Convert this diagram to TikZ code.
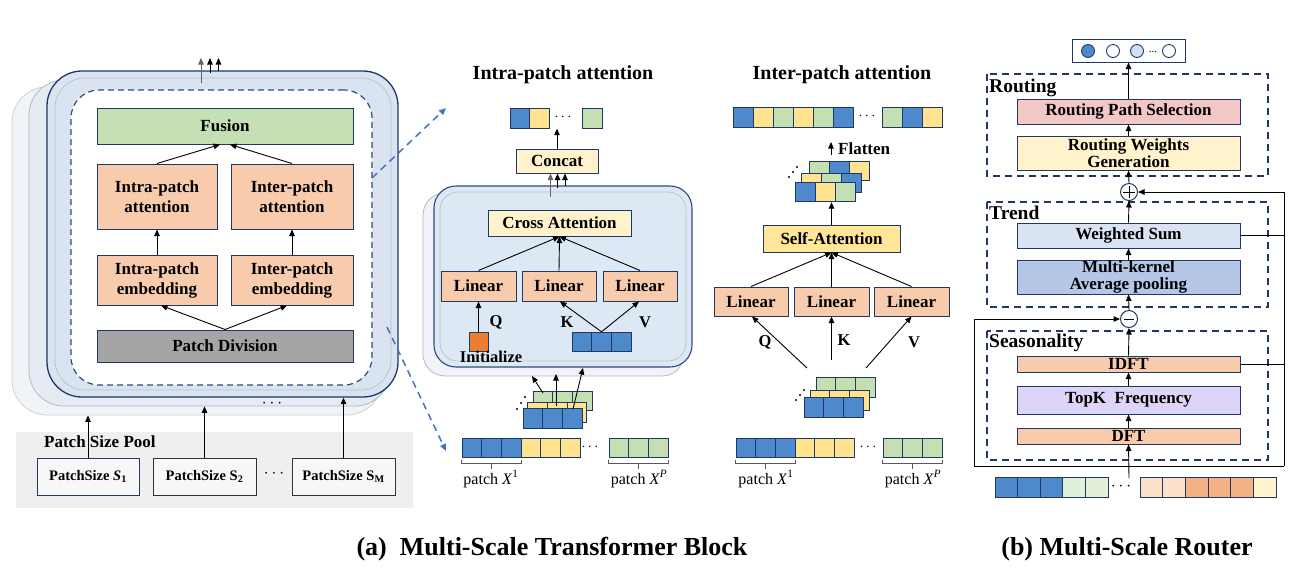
\documentclass[tikz,border=0pt]{standalone}
\usepackage{fontspec}
\setmainfont{Liberation Serif}
\usetikzlibrary{arrows.meta}

\definecolor{navy}{HTML}{1F3864}
\definecolor{edge}{HTML}{2E4A7D}
\definecolor{salmon}{HTML}{F8CBAD}
\definecolor{fusiongreen}{HTML}{C5E0B4}
\definecolor{divgray}{HTML}{A5A5A5}
\definecolor{paleyellow}{HTML}{FFF2CC}
\definecolor{selfyellow}{HTML}{FFE699}
\definecolor{tb}{HTML}{4E8ACB}
\definecolor{ty}{HTML}{FFE38F}
\definecolor{tg}{HTML}{C4DFB2}
\definecolor{initorange}{HTML}{ED7D31}
\definecolor{panelblue}{HTML}{DAE3F0}
\definecolor{cardA}{HTML}{F0F3F8}
\definecolor{cardB}{HTML}{E4EBF5}
\definecolor{attnblue}{HTML}{DDE8F5}
\definecolor{poolgray}{HTML}{EFEFEF}
\definecolor{routepink}{HTML}{F4C7C7}
\definecolor{sumblue}{HTML}{DAE3F3}
\definecolor{poolblue}{HTML}{B4C7E7}
\definecolor{topkviolet}{HTML}{DCD5F7}
\definecolor{linkblue}{HTML}{4472C4}
\definecolor{lg}{HTML}{E2EFD9}
\definecolor{peach}{HTML}{FBE0CC}
\definecolor{orng}{HTML}{F4B183}
\definecolor{cream}{HTML}{FFF2CC}
\definecolor{lightdot}{HTML}{D0DFF2}

\tikzset{
  lbl/.style={font=\bfseries\fontsize{17}{20}\selectfont},
  tight/.style={font=\bfseries\fontsize{17}{17}\selectfont},
  box/.style={draw=navy, line width=1pt, inner sep=0pt, align=center, lbl},
  arr/.style={-{Triangle[width=5.5pt,length=6.5pt]}, line width=0.9pt},
  tok/.style={draw=navy, line width=0.9pt, minimum height=19.5pt, inner sep=0pt},
  title/.style={font=\bfseries\fontsize{20}{22}\selectfont},
  sect/.style={font=\bfseries\fontsize{19.5}{21}\selectfont, anchor=west, inner sep=0pt},
  qkv/.style={font=\bfseries\fontsize{16.5}{17}\selectfont, inner sep=0pt},
  patchlbl/.style={font=\fontsize{16}{17}\selectfont, inner sep=0pt},
  brk/.style={draw=black!65, line width=0.8pt},
  dbox/.style={draw=navy, line width=1.6pt, dash pattern=on 7pt off 5pt},
  link/.style={draw=linkblue, line width=1.5pt, dash pattern=on 7pt off 5pt,
               -{Triangle[width=6pt,length=7pt]}},
  caption/.style={font=\bfseries\fontsize{26}{28}\selectfont},
}

% a row of coloured cells: name prefix, left x, centre y, cell width, colours
\newcommand\tokrow[5]{%
  \foreach \c [count=\i] in {#5} {
    \node[tok, minimum width=#4pt, fill=\c] (#1\i) at ({#2+(\i-0.5)*#4}, #3) {};
  }}

\begin{document}
\begin{tikzpicture}[x=1pt, y=-1pt]
\fill[white] (0,0) rectangle (1297,574);
\useasboundingbox (0,0) rectangle (1297,574);

%================ (a) left: stacked transformer blocks ================
\node[draw=black!18, fill=cardA, line width=0.8pt, rounded corners=35pt,
      minimum width=370pt, minimum height=328pt] (layerA) at (197,251) {};
\node[draw=black!28, fill=cardB, line width=0.8pt, rounded corners=35pt,
      minimum width=361pt, minimum height=326pt] (layerB) at (209.5,243) {};
\node[draw=navy, fill=panelblue, line width=1.3pt, rounded corners=35pt,
      minimum width=351pt, minimum height=326pt] (main) at (222.5,234) {};
\draw[draw=edge!35, line width=0.7pt, rounded corners=30pt] (55,78) rectangle (391,390);
\node[draw=edge, fill=white, line width=1.2pt, dash pattern=on 6pt off 4pt,
      rounded corners=28pt, minimum width=301pt, minimum height=295pt] (inner) at (221.5,237.5) {};

\node[box, fill=fusiongreen, minimum width=256pt, minimum height=36pt] (fusion) at (225,126) {Fusion};
\node[box, fill=salmon, minimum width=120pt, minimum height=65pt] (intraAtt) at (157,196.5) {Intra-patch\\attention};
\node[box, fill=salmon, minimum width=122pt, minimum height=65pt] (interAtt) at (292,196.5) {Inter-patch\\attention};
\node[box, fill=salmon, minimum width=120pt, minimum height=50pt] (intraEmb) at (157,280) {Intra-patch\\embedding};
\node[box, fill=salmon, minimum width=122pt, minimum height=50pt] (interEmb) at (292,280) {Inter-patch\\embedding};
\node[box, fill=divgray, minimum width=256pt, minimum height=32pt] (patchDiv) at (225,346) {Patch Division};

\draw[arr] (intraAtt.north) -- ([xshift=-5pt]fusion.south);
\draw[arr] (interAtt.north) -- ([xshift=5pt]fusion.south);
\draw[arr] (intraEmb.north) -- (intraAtt.south);
\draw[arr] (interEmb.north) -- (interAtt.south);
\draw[arr] (patchDiv.north) -- ([xshift=4pt]intraEmb.south);
\draw[arr] (patchDiv.north) -- ([xshift=-5pt]interEmb.south);

% outputs of the block
\coordinate (ta) at (201,83);
\coordinate (tb0) at (210,73);
\coordinate (tc) at (218.5,71);
\draw[arr, draw=black!60] (ta) -- (201,58);
\draw[arr] (tb0) -- (210,58);
\draw[arr] (tc) -- (218.5,58);

% patch size pool
\node[fill=poolgray, minimum width=397pt, minimum height=76pt, inner sep=0pt] (pool) at (214.5,470) {};
\node[font=\bfseries\fontsize{17}{18}\selectfont, anchor=west, inner sep=0pt] (poollbl) at (44,442) {Patch Size Pool};
\tikzset{psbox/.style={draw=black!80, fill=black!3, line width=1pt, minimum width=103pt,
         minimum height=37pt, inner sep=0pt, font=\bfseries\fontsize{14.5}{15}\selectfont}}
\node[psbox, draw=navy, minimum width=102pt] (s1) at (88,476.5) {PatchSize \textit{S}\textsubscript{1}};
\node[psbox] (s2) at (204.5,476.5) {PatchSize S\textsubscript{2}};
\node[psbox] (sM) at (343.5,476.5) {PatchSize S\textsubscript{M}};
\node[font=\bfseries\fontsize{18}{18}\selectfont] (pdots) at (274,474) {$\cdots$};
\node[font=\bfseries\fontsize{16}{16}\selectfont] (ldots) at (272,404) {$\cdots$};

\draw[arr] (s1.north) -- (s1.north |- layerA.south);
\draw[arr] (s2.north) -- (s2.north |- layerB.south);
\draw[arr] (sM.north) -- (sM.north |- main.south);

% zoom links
\coordinate (zl1) at (372,178);
\coordinate (zl2) at (446,108);
\coordinate (zl3) at (387,327);
\coordinate (zl4) at (446,451);
\draw[link] (zl1) -- (zl2);
\draw[link] (zl3) -- (zl4);

%================ (a) middle: intra-patch attention ================
\node[title] (intraTitle) at (563,75) {Intra-patch attention};

\node[draw=black!28, fill=cardA, line width=0.8pt, rounded corners=22pt,
      minimum width=261pt, minimum height=183pt] (iback) at (553.5,284.5) {};
\node[draw=edge, fill=attnblue, line width=1.1pt, rounded corners=22pt,
      minimum width=258pt, minimum height=181pt] (ifront) at (563,276.5) {};
\draw[draw=black!25, line width=0.7pt, rounded corners=18pt] (440,192) rectangle (686,361);

\node[box, fill=paleyellow, minimum width=143pt, minimum height=26pt] (cross) at (559.5,223) {Cross Attention};
\node[box, fill=paleyellow, minimum width=82pt, minimum height=24pt] (concat) at (557,161) {Concat};
\node[box, fill=salmon, minimum width=75pt, minimum height=30pt] (ilin1) at (478.5,286) {Linear};
\node[box, fill=salmon, minimum width=74pt, minimum height=30pt] (ilin2) at (559,286) {Linear};
\node[box, fill=salmon, minimum width=74pt, minimum height=30pt] (ilin3) at (640,286) {Linear};
\draw[arr] (ilin1.north) -- (cross.south);
\draw[arr] (ilin2.north) -- (cross.south);
\draw[arr] (ilin3.north) -- (cross.south);

\node[draw=navy, fill=initorange, line width=0.9pt, minimum size=19pt, inner sep=0pt] (init) at (478.5,341.5) {};
\node[qkv] (initlbl) at (491,357) {Initialize};
\draw[arr] (init.north) -- (ilin1.south);
\node[qkv] (iq) at (496,322) {Q};

\tokrow{kv}{572}{342}{19.7}{tb,tb,tb}
\draw[arr] (kv2.north) -- ([xshift=1pt]ilin2.south);
\draw[arr] (kv2.north) -- ([xshift=-1pt]ilin3.south);
\node[qkv] (ik) at (567,322) {K};
\node[qkv] (iv) at (645,322) {V};

% concat output
\tokrow{io}{510}{118.5}{19.5}{tb,ty}
\node[font=\fontsize{14}{14}\selectfont] (iodots) at (563,117) {$\cdots$};
\tokrow{iog}{582.5}{118.5}{19.5}{tg}
\draw[arr] (concat.north) -- (concat.north |- io1.south);
\coordinate (c1) at (550.5,197);
\coordinate (c2) at (557.5,188);
\coordinate (c3) at (565,186);
\draw[arr, draw=black!60] (c1) -- (c1 |- concat.south);
\draw[arr] (c2) -- (c2 |- concat.south);
\draw[arr] (c3) -- (c3 |- concat.south);

% stacked patches
\tokrow{ig}{533}{401}{19.8}{tg,tg,tg}
\tokrow{iy}{527.5}{412.5}{19.8}{ty,ty,ty}
\tokrow{ib}{523}{418.5}{19.8}{tb,tb,tb}
\fill (517,409) circle (1.1pt) (521,403) circle (1.1pt) (525,397) circle (1.1pt);
\coordinate (is1) at (543,393);
\coordinate (is2) at (556,406);
\coordinate (is3) at (573,409);
\draw[arr] (is1) -- (532,376);
\draw[arr] (is2) -- (556,374);
\draw[arr] (is3) -- (583,368);

% input sequence
\tokrow{ia}{462}{448}{19.7}{tb,tb,tb,ty,ty,ty}
\node[font=\fontsize{14}{14}\selectfont] (iadots) at (590,447) {$\cdots$};
\tokrow{iap}{609}{448}{19.7}{tg,tg,tg}
\draw[brk] ([yshift=-1.5pt]ia1.south west) -- ++(0,4) -| ([yshift=-1.5pt]ia3.south east);
\draw[brk] ([yshift=-5.5pt]ia2.south) -- ++(0,5);
\draw[brk] ([yshift=-1.5pt]iap1.south west) -- ++(0,4) -| ([yshift=-1.5pt]iap3.south east);
\draw[brk] ([yshift=-5.5pt]iap2.south) -- ++(0,5);
\node[patchlbl] (ipx1) at (491,479) {patch \textit{X}\textsuperscript{1}};
\node[patchlbl] (ipxp) at (639,479) {patch \textit{X}\textsuperscript{\textit{P}}};

%================ (a) right: inter-patch attention ================
\node[title] (interTitle) at (842,75) {Inter-patch attention};

\tokrow{oo}{733}{117.5}{20}{tb,ty,tg,ty,tg,tb}
\node[font=\fontsize{14}{14}\selectfont] (oodots) at (867,116) {$\cdots$};
\tokrow{op}{882}{117.5}{20}{tg,tb,ty}

\coordinate (fl0) at (831,155);
\coordinate (fl1) at (831,142);
\draw[arr] (fl0) -- (fl1);
\node[qkv, anchor=west, font=\bfseries\fontsize{17}{17}\selectfont] (flatten) at (838,149) {Flatten};

\tokrow{sb}{809}{171}{20}{tg,tb,ty}
\tokrow{sm}{801.5}{183}{20}{ty,tg,tb}
\tokrow{sf}{795}{192}{20}{tb,ty,tg}
\fill (789,177) circle (1.1pt) (793,172) circle (1.1pt) (797,167) circle (1.1pt);

\node[box, fill=selfyellow, minimum width=137pt, minimum height=27pt] (self) at (831.5,238.5) {Self-Attention};
\draw[arr] (self.north) -- (self.north |- sf2.south);

\node[box, fill=salmon, minimum width=74pt, minimum height=29pt] (olin1) at (751,301.5) {Linear};
\node[box, fill=salmon, minimum width=75pt, minimum height=29pt] (olin2) at (831.5,301.5) {Linear};
\node[box, fill=salmon, minimum width=75pt, minimum height=29pt] (olin3) at (911.5,301.5) {Linear};
\draw[arr] (olin1.north) -- (self.south);
\draw[arr] (olin2.north) -- (self.south);
\draw[arr] (olin3.north) -- (self.south);

\coordinate (oq0) at (807,368);
\coordinate (ok0) at (831.5,360);
\coordinate (ov0) at (866,368);
\draw[arr] (oq0) -- ([xshift=1pt]olin1.south);
\draw[arr] (ok0) -- (olin2.south);
\draw[arr] (ov0) -- (olin3.south);
\node[qkv] (oq) at (765,342) {Q};
\node[qkv] (ok) at (844,340) {K};
\node[qkv] (ov) at (914,342) {V};

\tokrow{pg}{816}{387.5}{19.7}{tg,tg,tg}
\tokrow{py}{810}{400.5}{19.7}{ty,ty,ty}
\tokrow{pb}{804}{407.5}{19.7}{tb,tb,tb}
\fill (796,400) circle (1.1pt) (800,395) circle (1.1pt) (804,390) circle (1.1pt);

\tokrow{oa}{736}{448}{19.7}{tb,tb,tb,ty,ty,ty}
\node[font=\fontsize{14}{14}\selectfont] (oadots) at (868,447) {$\cdots$};
\tokrow{oap}{883}{448}{19.7}{tg,tg,tg}
\draw[brk] ([yshift=-1.5pt]oa1.south west) -- ++(0,4) -| ([yshift=-1.5pt]oa3.south east);
\draw[brk] ([yshift=-5.5pt]oa2.south) -- ++(0,5);
\draw[brk] ([yshift=-1.5pt]oap1.south west) -- ++(0,4) -| ([yshift=-1.5pt]oap3.south east);
\draw[brk] ([yshift=-5.5pt]oap2.south) -- ++(0,5);
\node[patchlbl] (opx1) at (766,479) {patch \textit{X}\textsuperscript{1}};
\node[patchlbl] (opxp) at (913,479) {patch \textit{X}\textsuperscript{\textit{P}}};

%================ (b) multi-scale router ================
\node[draw=navy, line width=1pt, minimum width=113pt, minimum height=23pt, inner sep=0pt] (route) at (1128.5,50.5) {};
\tikzset{dot/.style={circle, draw=navy, line width=0.9pt, minimum size=13pt, inner sep=0pt}}
\node[dot, fill=tb] (d1) at (1088,51) {};
\node[dot, fill=white] (d2) at (1113,51) {};
\node[dot, fill=lightdot] (d3) at (1137,51) {};
\node[font=\fontsize{11}{11}\selectfont] (d4) at (1153,52) {...};
\node[dot, fill=white] (d5) at (1169,51) {};

\draw[dbox] (987,74) rectangle (1268,176);
\node[sect] (routingLbl) at (989,88) {Routing};
\draw[dbox] (987,202) rectangle (1268,307);
\node[sect] (trendLbl) at (989,213) {Trend};
\draw[dbox] (987,331) rectangle (1268,460);
\node[sect] (seasLbl) at (989,343) {Seasonality};

\tikzset{rbox/.style={box, tight, minimum width=223pt}}
\node[rbox, fill=routepink, minimum height=25pt] (rps) at (1128.5,111.5) {Routing Path Selection};
\node[rbox, fill=paleyellow, minimum height=34pt] (rwg) at (1128.5,153) {Routing Weights\\Generation};
\node[rbox, fill=sumblue, minimum height=25pt] (ws) at (1128.5,235.5) {Weighted Sum};
\node[rbox, fill=poolblue, minimum height=34pt] (mkap) at (1128.5,277) {Multi-kernel\\Average pooling};
\node[rbox, fill=salmon, minimum height=16pt] (idft) at (1128.5,364) {IDFT};
\node[rbox, fill=topkviolet, minimum height=28pt] (topk) at (1128.5,400) {TopK\ \ Frequency};
\node[rbox, fill=salmon, minimum height=16pt] (dft) at (1128.5,436) {DFT};

\node[circle, draw=navy, fill=white, line width=1pt, minimum size=17pt, inner sep=0pt] (plus) at (1129,192) {};
\draw[line width=0.9pt] ([xshift=-6pt]plus.center) -- ([xshift=6pt]plus.center)
                        ([yshift=-6pt]plus.center) -- ([yshift=6pt]plus.center);
\node[circle, draw=navy, fill=white, line width=1pt, minimum size=17pt, inner sep=0pt] (minus) at (1129,319) {};
\draw[line width=0.9pt] ([xshift=-5pt]minus.center) -- ([xshift=5pt]minus.center);

% input series
\tokrow{ra}{995}{487.5}{22.6}{tb,tb,tb,lg,lg}
\node[font=\bfseries\fontsize{16}{16}\selectfont] (radots) at (1121,487) {$\cdots$};
\tokrow{rb}{1140}{487.5}{22.67}{peach,peach,orng,orng,orng,cream}

\coordinate (inTop) at (1129,478);
\coordinate (split) at (1129,466);
\coordinate (leftTurn) at (974,466);
\coordinate (rightTurn) at (1284,466);
\draw[arr] (inTop) -- (dft.south);
\draw[line width=1pt] (leftTurn) -- (rightTurn);
\draw[arr, line width=1pt] (leftTurn) |- (minus.west);
\draw[arr, line width=1pt] (rightTurn) |- (plus.east);
\draw[line width=1pt] (ws.east) -- (ws.east -| rightTurn);
\draw[line width=1pt] (idft.east) -- (idft.east -| rightTurn);

\draw[arr] (dft.north) -- (topk.south);
\draw[arr] (topk.north) -- (idft.south);
\draw[arr] (idft.north) -- (minus.south);
\draw[arr] (minus.north) -- (mkap.south);
\draw[arr] (mkap.north) -- (ws.south);
\draw[arr] (ws.north) -- (plus.south);
\draw[arr] (plus.north) -- (rwg.south);
\draw[arr] (rwg.north) -- (rps.south);
\draw[arr] (rps.north) -- (route.south);

%================ captions ================
\node[caption] (capA) at (552,549) {(a)\ \ Multi-Scale Transformer Block};
\node[caption] (capB) at (1127,549) {(b) Multi-Scale Router};
\end{tikzpicture}
\end{document}
